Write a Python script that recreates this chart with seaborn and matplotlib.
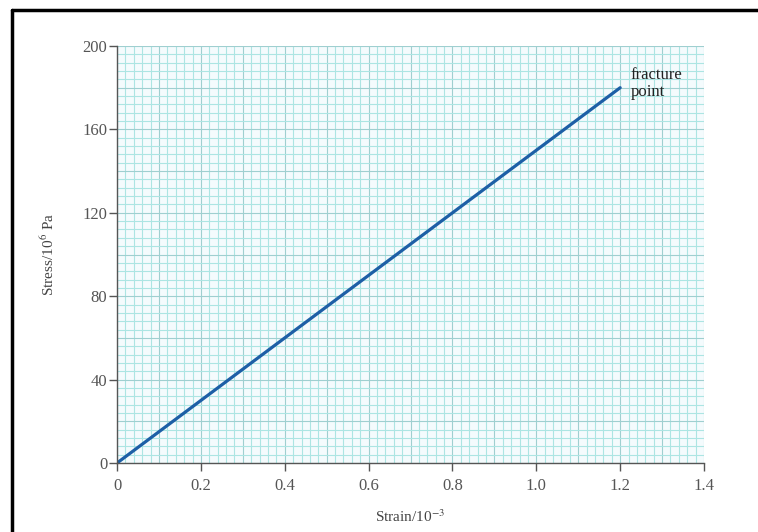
import matplotlib
matplotlib.use("Agg")
import matplotlib.pyplot as plt
import numpy as np
import pandas as pd
import seaborn as sns
from matplotlib.lines import Line2D

strain = [0.0, 1.2]
stress = [0.0, 180.0]
x_ticks = [0, 0.2, 0.4, 0.6, 0.8, 1.0, 1.2, 1.4]
x_tick_labels = ["0", "0.2", "0.4", "0.6", "0.8", "1.0", "1.2", "1.4"]
y_ticks = [0, 40, 80, 120, 160, 200]
annotation_text = "fracture\npoint"

sns.set_theme(style="white")
plt.rcParams["font.family"] = ["Liberation Serif", "DejaVu Serif"]
plt.rcParams["mathtext.fontset"] = "stix"

fig = plt.figure(figsize=(7.58, 5.32), dpi=100)
ax = fig.add_axes([0.1544, 0.1297, 0.7744, 0.7838])

df = pd.DataFrame({"strain": strain, "stress": stress})
sns.lineplot(data=df, x="strain", y="stress", ax=ax, color="#1d5fa6",
             linewidth=2.3, zorder=5)

ax.set_xlim(0, 1.4)
ax.set_ylim(0, 200)

# graph paper grid
for xv in np.arange(0, 1.4001, 0.02):
    major = abs(round(xv / 0.1) * 0.1 - xv) < 1e-6
    ax.axvline(xv, color="#9fcfd0" if major else "#ace5e3",
               linewidth=0.8, zorder=1)
for yv in np.arange(0, 200.001, 4):
    major = abs(round(yv / 20) * 20 - yv) < 1e-6
    ax.axhline(yv, color="#9fcfd0" if major else "#ace5e3",
               linewidth=0.8, zorder=1)
ax.set_facecolor("#f4fbfd")

for side in ("top", "right"):
    ax.spines[side].set_visible(False)
for side in ("left", "bottom"):
    ax.spines[side].set_color("#555555")
    ax.spines[side].set_linewidth(1.0)
    ax.spines[side].set_zorder(6)

ax.set_xticks(x_ticks)
ax.set_xticklabels(x_tick_labels)
ax.set_yticks(y_ticks)
ax.tick_params(axis="both", direction="out", length=6, width=1.0,
               color="#555555", labelcolor="#555555", labelsize=12,
               bottom=True, left=True)
ax.tick_params(axis="x", pad=5)
ax.tick_params(axis="y", pad=1)

ax.set_xlabel("Strain/10$^{-3}$", fontsize=11, color="#444444", labelpad=10)
ax.set_ylabel("Stress/10$^{6}$ Pa", fontsize=11, color="#444444", labelpad=18)

ax.text(strain[-1] + 0.025, stress[-1] + 2, annotation_text, fontsize=12,
        color="#222222", va="center", ha="left", linespacing=1.05, zorder=7)

# outer frame visible at top and left
fig.add_artist(Line2D([12 / 758, 1.0], [1 - 10 / 532, 1 - 10 / 532],
                      transform=fig.transFigure, color="black", linewidth=2.5))
fig.add_artist(Line2D([12 / 758, 12 / 758], [0.0, 1 - 10 / 532],
                      transform=fig.transFigure, color="black", linewidth=2.5))

fig.savefig("out.png", dpi=100)
